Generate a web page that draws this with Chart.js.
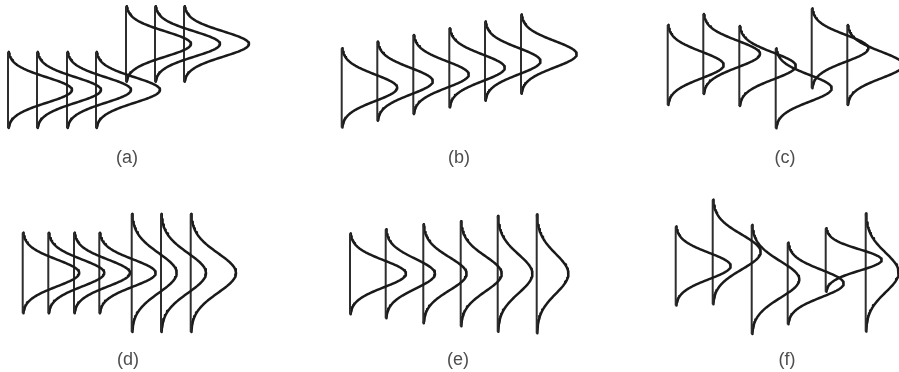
<!DOCTYPE html>
<html>
<head>
<meta charset="utf-8">
<script src="https://cdn.jsdelivr.net/npm/chart.js"></script>
<style>
  html, body { margin: 0; padding: 0; background: #fff; overflow: hidden; }
  #wrap { position: relative; width: 899px; height: 372px; overflow: hidden; }
  canvas { position: absolute; }
</style>
</head>
<body>
<div id="wrap">
  <canvas id="pa" width="254" height="170" style="left:0;top:0"></canvas>
  <canvas id="pb" width="318" height="170" style="left:300px;top:0"></canvas>
  <canvas id="pc" width="370" height="170" style="left:600px;top:0"></canvas>
  <canvas id="pd" width="256" height="202" style="left:0;top:170px"></canvas>
  <canvas id="pe" width="316" height="202" style="left:300px;top:170px"></canvas>
  <canvas id="pf" width="374" height="202" style="left:600px;top:170px"></canvas>
</div>
<script>
// each distribution: position along x, mean, standard deviation, peak height of the density
// (a) two groups of means
const aPos  = [0.8, 3.7, 6.7, 9.6, 12.6, 15.5, 18.4];
const aMean = [5.0, 5.0, 5.0, 5.0, 9.6, 9.6, 9.6];
const aSd   = [1.27, 1.27, 1.27, 1.27, 1.26, 1.26, 1.26];
const aPeak = [6.4, 6.4, 6.4, 6.4, 6.5, 6.5, 6.5];

// (b) steady rise
const bPos  = [4.17, 7.73, 11.33, 14.93, 18.5, 22.1];
const bMean = [5.22, 5.88, 6.55, 7.22, 7.88, 8.58];
const bSd   = [1.32, 1.32, 1.32, 1.32, 1.32, 1.32];
const bPeak = [5.55, 5.55, 5.55, 5.55, 5.55, 5.57];

// (c) means jumping about
const cPos  = [6.77, 10.33, 13.93, 17.57, 21.17, 24.73];
const cMean = [7.5, 8.6, 7.4, 5.17, 9.17, 7.5];
const cSd   = [1.33, 1.33, 1.33, 1.33, 1.33, 1.33];
const cPeak = [5.6, 5.67, 5.65, 5.6, 5.67, 5.6];

// (d) same mean, spread jumps
const dPos  = [2.27, 4.83, 7.4, 9.93, 13.17, 16.1, 19.07];
const dMean = [6.7, 6.7, 6.7, 6.7, 6.7, 6.7, 6.7];
const dSd   = [1.345, 1.345, 1.345, 1.345, 1.97, 1.97, 1.97];
const dPeak = [5.65, 5.6, 5.6, 5.64, 4.5, 4.5, 4.53];

// (e) same mean, spread grows
const ePos  = [5.0, 8.57, 12.33, 16.07, 19.77, 23.67];
const eMean = [6.62, 6.62, 6.62, 6.62, 6.62, 6.62];
const eSd   = [1.345, 1.483, 1.65, 1.75, 1.93, 1.98];
const ePeak = [5.6, 4.93, 4.33, 4.1, 3.47, 3.17];

// (f) mean and spread both move
const fPos  = [7.57, 11.27, 15.17, 18.77, 22.57, 26.57];
const fMean = [7.4, 8.8, 6.05, 5.65, 8.0, 6.75];
const fSd   = [1.32, 1.74, 1.82, 1.36, 1.06, 1.97];
const fPeak = [5.5, 4.8, 4.76, 5.6, 5.6, 3.3];

const lineCol = '#1a1a1a';

function densityPoints(pos, mean, sd, peak) {
  const pts = [];
  for (let i = 0; i <= 90; i++) {
    const z = -3 + 6 * i / 90;
    pts.push({x: pos + peak * Math.exp(-z * z / 2), y: mean - z * sd});
  }
  return pts;
}

function makeSets(pos, mean, sd, peak) {
  const sets = [];
  pos.forEach((p, i) => {
    // baseline
    sets.push({
      data: [{x: p, y: mean[i] + 3 * sd[i]}, {x: p, y: mean[i] - 3 * sd[i]}],
      showLine: true, borderColor: '#2e2e2e', borderWidth: 2, pointRadius: 0
    });
    sets.push({
      data: densityPoints(p, mean[i], sd[i], peak[i]),
      showLine: true, borderColor: lineCol, borderWidth: 2.5, pointRadius: 0,
      borderJoinStyle: 'round', borderCapStyle: 'round'
    });
  });
  return sets;
}

function panel(id, label, sets, xMax, yMax, padTop, padBottom) {
  new Chart(document.getElementById(id), {
    type: 'scatter',
    data: {datasets: sets},
    options: {
      responsive: false,
      animation: false,
      layout: {padding: 0, autoPadding: false},
      plugins: {legend: {display: false}, tooltip: {enabled: false}},
      elements: {line: {tension: 0}, point: {radius: 0}},
      scales: {
        x: {
          type: 'linear', min: 0, max: xMax,
          ticks: {display: false},
          grid: {display: false, drawTicks: false},
          border: {display: false},
          title: {
            display: true, text: label, color: '#4d4d4d',
            font: {family: 'Liberation Sans', size: 18, lineHeight: '20px'},
            padding: {top: padTop, bottom: padBottom}
          }
        },
        y: {type: 'linear', display: false, min: 0, max: yMax}
      }
    }
  });
}

panel('pa', '(a)', makeSets(aPos, aMean, aSd, aPeak), 25.4, 14, 8, 2);
panel('pb', '(b)', makeSets(bPos, bMean, bSd, bPeak), 31.8, 14, 8, 2);
panel('pc', '(c)', makeSets(cPos, cMean, cSd, cPeak), 37, 14, 8, 2);
panel('pd', '(d)', makeSets(dPos, dMean, dSd, dPeak), 25.6, 17, 10, 2);
panel('pe', '(e)', makeSets(ePos, eMean, eSd, ePeak), 31.6, 17, 10, 2);
panel('pf', '(f)', makeSets(fPos, fMean, fSd, fPeak), 37.4, 17, 10, 2);
</script>
</body>
</html>
